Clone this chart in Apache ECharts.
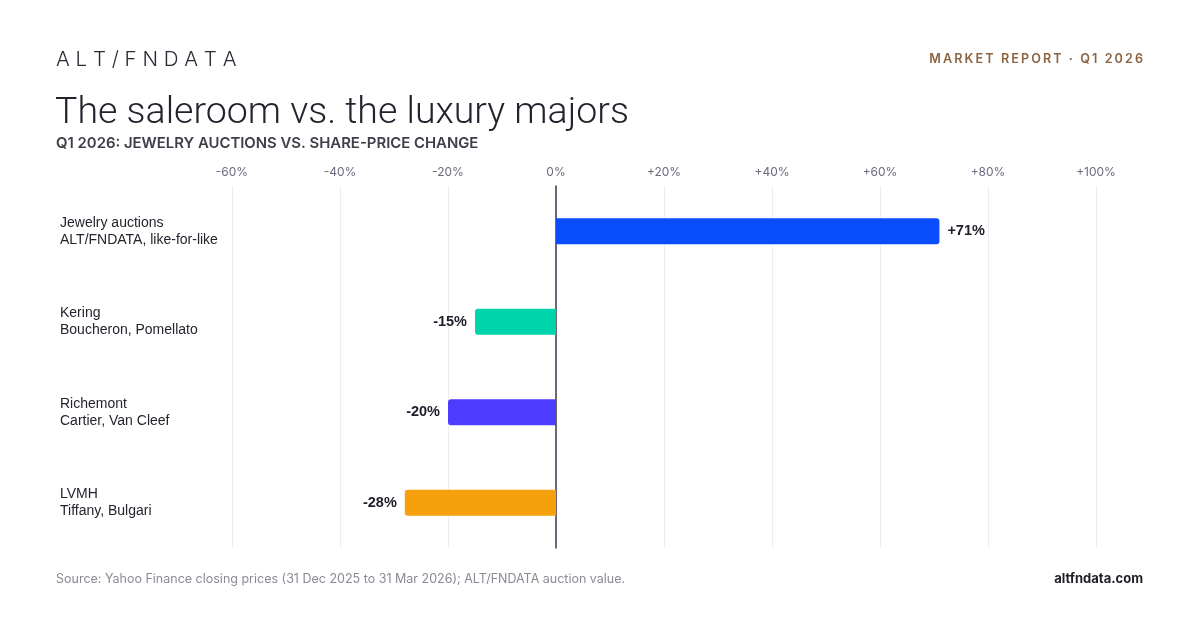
<!DOCTYPE html>
<html>
<head>
<meta charset="utf-8">
<script src="https://cdn.jsdelivr.net/npm/echarts@6/dist/echarts.min.js"></script>
<style>
  html, body { margin: 0; padding: 0; background: #fff; }
  #main { width: 1200px; height: 630px; }
</style>
</head>
<body>
<div id="main"></div>
<script>
// data
var names = ['Jewelry auctions', 'Kering', 'Richemont', 'LVMH'];
var notes = ['ALT/FNDATA, like-for-like', 'Boucheron, Pomellato', 'Cartier, Van Cleef', 'Tiffany, Bulgari'];
var changes = [71, -15, -20, -28];
var colors = ['#0a4dff', '#00d4aa', '#4b3cff', '#f5a00c'];

// spread letters a little (no letterSpacing in canvas text)
function spaced(s, gap) {
  return s.split('').join(gap);
}

var chart = echarts.init(document.getElementById('main'));

var option = {
  backgroundColor: '#fff',
  animation: false,
  title: [
    {
      text: 'A L T / F N D A T A',
      left: 56, top: 49, padding: 0,
      textStyle: { fontFamily: 'Inter', fontWeight: 300, fontSize: 20.5, color: '#2a2a36' }
    },
    {
      text: spaced('MARKET REPORT · Q1 2026', '\u2009'),
      right: 57, top: 53, padding: 0,
      textStyle: { fontFamily: 'Inter', fontWeight: 600, fontSize: 12.6, color: '#8c6440' }
    },
    {
      text: 'The saleroom vs. the luxury majors',
      left: 55, top: 95, padding: 0,
      textStyle: { fontFamily: 'Roboto', fontWeight: 300, fontSize: 37.5, color: '#23232e' }
    },
    {
      text: 'Q1 2026: JEWELRY AUCTIONS VS. SHARE-PRICE CHANGE',
      left: 56, top: 136, padding: 0,
      textStyle: { fontFamily: 'Inter', fontWeight: 600, fontSize: 14.9, color: '#3e3e4a' }
    },
    {
      text: 'Source: Yahoo Finance closing prices (31 Dec 2025 to 31 Mar 2026); ALT/FNDATA auction value.',
      left: 56, top: 573, padding: 0,
      textStyle: { fontFamily: 'Inter', fontWeight: 400, fontSize: 12.5, color: '#8a8a96' }
    },
    {
      text: 'altfndata.com',
      right: 57, top: 573, padding: 0,
      textStyle: { fontFamily: 'Inter', fontWeight: 700, fontSize: 13, color: '#1e1e28' }
    }
  ],
  grid: { left: 232, right: 104, top: 186, bottom: 82 },
  xAxis: {
    type: 'value',
    position: 'top',
    min: -60, max: 100, interval: 20,
    axisLine: { show: false },
    axisTick: { show: false },
    axisLabel: {
      fontFamily: 'Inter', fontSize: 12, color: '#6a6a80', margin: 8,
      formatter: function (v) { return (v > 0 ? '+' : '') + v + '%'; }
    },
    splitLine: { lineStyle: { color: '#ececf2', width: 1 } }
  },
  yAxis: {
    type: 'category',
    inverse: true,
    data: names,
    axisLine: { show: true, onZero: true, lineStyle: { color: '#3a3a4a', width: 1.5 } },
    axisTick: { show: false },
    axisLabel: {
      align: 'left',
      margin: 172,
      formatter: function (v, i) { return '{a|' + v + '}\n{a|' + notes[i] + '}'; },
      rich: {
        a: { fontFamily: 'Liberation Sans', fontSize: 14, color: '#24242e', lineHeight: 17 }
      }
    }
  },
  series: [{
    type: 'bar',
    barWidth: 26,
    data: changes.map(function (v, i) {
      return {
        value: v,
        itemStyle: { color: colors[i], borderRadius: v > 0 ? [0, 3, 3, 0] : [3, 0, 0, 3] },
        label: { position: v > 0 ? 'right' : 'left' }
      };
    }),
    label: {
      show: true,
      distance: 8,
      fontFamily: 'Liberation Sans', fontWeight: 'bold', fontSize: 14.5, color: '#1e1e2a',
      formatter: function (p) { return (p.value > 0 ? '+' : '') + p.value + '%'; }
    }
  }]
};

chart.setOption(option);
</script>
</body>
</html>
